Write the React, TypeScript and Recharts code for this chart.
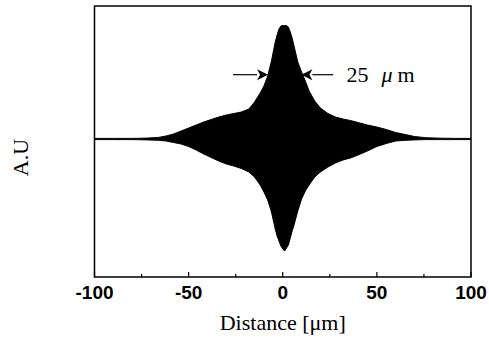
import React from "react";
import {
  ComposedChart,
  Area,
  XAxis,
  YAxis,
  ReferenceArea,
  ReferenceLine,
  ReferenceDot,
  Label,
} from "recharts";

// Distance [µm]
const distance = [
  -100, -90, -80, -72, -66, -62, -58, -54, -50, -46, -42, -38, -34, -30, -26, -22, -18, -15, -12, -10,
  -8, -6, -4, -3, -2, -1, 0, 1, 2, 3, 4, 5, 6, 8, 10, 12, 14, 17, 20, 24, 28, 32, 36, 40, 45, 50, 55,
  60, 65, 70, 76, 84, 92, 100,
];
// upper envelope (A.U)
const upper = [
  0.6, 0.6, 0.6, 0.9, 1.6, 3, 5, 8, 11, 14, 17, 19.5, 22, 24, 25.5, 27, 30, 37, 46, 53,
  63, 78, 97, 104, 110, 113, 113.5, 113.5, 113.5, 112, 107, 101, 93, 77, 67, 58, 48, 38, 31, 25.5, 22, 20, 18.5, 16.5, 14, 12, 9.5,
  6.5, 4.5, 2.5, 1.3, 0.8, 0.6, 0.6,
];
// lower envelope magnitude (A.U)
const lower = [
  0.6, 0.6, 0.6, 0.9, 1.3, 2, 3.5, 5, 7.5, 11, 15, 18.5, 22, 25, 27, 29.5, 33, 38, 46, 53,
  61, 73, 90, 97, 102, 107, 110, 112, 109, 106, 99, 92, 86, 72, 60, 52, 46, 38, 33, 28, 24, 21, 19, 16, 12, 7.5, 4.5,
  2, 1.3, 0.9, 0.6, 0.6, 0.6, 0.6,
];

const xTicks = [-100, -75, -50, -25, 0, 25, 50, 75, 100];
const xLabels = [-100, -50, 0, 50, 100];
const yDomain = [-138, 133];

// annotation: width marker
const arrowY = 64.3;
const leftArrow = { from: -26.4, to: -7.8 };
const rightArrow = { from: 26.8, to: 9.9 };
const widthText = { x: 33.9, value: "25", unit: "μ", unit2: "m" };

const data = distance.map((d, i) => ({ distance: d, range: [-lower[i], upper[i]] }));

const SERIF = "'Liberation Serif', 'Times New Roman', serif";
const SANS = "'Liberation Sans', Arial, sans-serif";

const XTick = (props: any) => {
  const { x, y, payload } = props;
  const major = xLabels.includes(payload.value);
  return (
    <g>
      <line x1={x} x2={x} y1={y} y2={y - (major ? 5 : 3)} stroke="#000" strokeWidth={1.2} />
      {major && (
        <text
          x={x}
          y={y + 22}
          textAnchor="middle"
          fontFamily={SANS}
          fontWeight="bold"
          fontSize={19}
          fill="#000"
        >
          {payload.value}
        </text>
      )}
    </g>
  );
};

const Arrow = (props: any) => {
  const { x1, y1, x2, y2 } = props;
  const dir = x2 > x1 ? 1 : -1;
  const hl = 11;
  const hw = 5.5;
  return (
    <g>
      <line x1={x1} y1={y1} x2={x2 - dir * hl} y2={y2} stroke="#000" strokeWidth={1.2} />
      <polygon
        points={`${x2},${y2} ${x2 - dir * hl},${y2 - hw} ${x2 - dir * (hl - 3)},${y2} ${x2 - dir * hl},${y2 + hw}`}
        fill="#000"
      />
    </g>
  );
};

const WidthLabel = (props: any) => {
  const { cx, cy } = props;
  return (
    <text x={cx} y={cy + 7} fontFamily={SERIF} fontSize={22} fill="#000">
      <tspan x={cx}>{widthText.value}</tspan>
      <tspan x={cx + 35} fontStyle="italic">{widthText.unit}</tspan>
      <tspan x={cx + 51}>{widthText.unit2}</tspan>
    </text>
  );
};

export default function App() {
  return (
    <div style={{ position: "absolute", left: 0, top: 0, width: 489, height: 340, background: "#fff" }}>
      <ComposedChart width={489} height={340} data={data} margin={{ top: 6, right: 18, left: 0, bottom: 0 }}>
        <XAxis
          dataKey="distance"
          type="number"
          domain={[-100, 100]}
          ticks={xTicks}
          interval={0}
          allowDataOverflow
          axisLine={false}
          tickLine={false}
          tickSize={0}
          tickMargin={0}
          tick={<XTick />}
          height={63}
        >
          <Label
            content={(p: any) => {
              const vb = p.viewBox;
              return (
                <text
                  x={vb.x + vb.width / 2}
                  y={vb.y + 53}
                  textAnchor="middle"
                  fontFamily={SERIF}
                  fontSize={22}
                  fill="#000"
                >
                  Distance [μm]
                </text>
              );
            }}
          />
        </XAxis>
        <YAxis
          type="number"
          domain={yDomain}
          allowDataOverflow
          width={94.5}
          axisLine={false}
          tickLine={false}
          tick={false}
        >
          <Label
            content={(p: any) => {
              const vb = p.viewBox;
              const cx = vb.x + 28;
              const cy = vb.y + vb.height / 2 + 16;
              return (
                <text
                  x={cx}
                  y={cy}
                  transform={`rotate(-90, ${cx}, ${cy})`}
                  textAnchor="middle"
                  fontFamily={SERIF}
                  fontSize={22}
                  fill="#000"
                >
                  A.U
                </text>
              );
            }}
          />
        </YAxis>
        <Area
          type="linear"
          dataKey="range"
          stroke="#000"
          strokeWidth={1}
          fill="#000"
          fillOpacity={1}
          isAnimationActive={false}
          dot={false}
          activeDot={false}
        />
        <ReferenceArea
          x1={-100}
          x2={100}
          y1={yDomain[0]}
          y2={yDomain[1]}
          fill="none"
          stroke="#000"
          strokeWidth={1.5}
          ifOverflow="visible"
        />
        <ReferenceLine
          segment={[
            { x: leftArrow.from, y: arrowY },
            { x: leftArrow.to, y: arrowY },
          ]}
          shape={<Arrow />}
          ifOverflow="visible"
        />
        <ReferenceLine
          segment={[
            { x: rightArrow.from, y: arrowY },
            { x: rightArrow.to, y: arrowY },
          ]}
          shape={<Arrow />}
          ifOverflow="visible"
        />
        <ReferenceDot x={widthText.x} y={arrowY} r={0} shape={<WidthLabel />} ifOverflow="visible" />
      </ComposedChart>
    </div>
  );
}
